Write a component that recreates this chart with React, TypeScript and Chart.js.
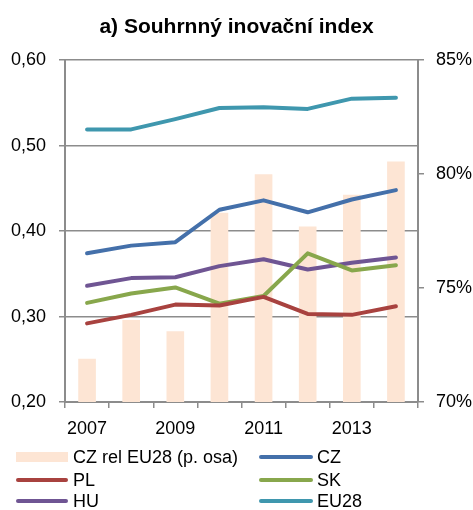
import React, { useEffect, useRef } from "react";
import { Chart, registerables } from "chart.js";

Chart.register(...registerables);

const years = ["2007", "2008", "2009", "2010", "2011", "2012", "2013", "2014"];
const czRelEU28 = [71.9, 73.6, 73.1, 78.3, 80.0, 77.7, 79.1, 80.55];
const cz = [0.374, 0.383, 0.387, 0.425, 0.436, 0.422, 0.437, 0.448];
const pl = [0.292, 0.302, 0.314, 0.313, 0.323, 0.303, 0.302, 0.312];
const sk = [0.316, 0.327, 0.334, 0.315, 0.324, 0.374, 0.354, 0.36];
const hu = [0.336, 0.345, 0.346, 0.359, 0.367, 0.355, 0.363, 0.369];
const eu28 = [0.519, 0.519, 0.531, 0.544, 0.545, 0.543, 0.555, 0.556];
const leftTicks = [0.2, 0.3, 0.4, 0.5, 0.6];
const rightTicks = [70, 75, 80, 85];

const FONT = "'Liberation Sans', Arial, sans-serif";
const BAR_COLOR = "#FDE5D4";
const GRID = "#8c8c8c";

const legendPlugin = {
  id: "customLegend",
  afterDraw(chart: any) {
    const ctx = chart.ctx;
    const ds = chart.data.datasets;
    const cols = [
      { sx: 16, sw: 52, tx: 73 },
      { sx: 259, sw: 54, tx: 317 },
    ];
    const rows = [457, 480, 501];
    ctx.save();
    ctx.font = "18px " + FONT;
    ctx.textBaseline = "middle";
    ctx.fillStyle = "#000";
    ds.forEach((d: any, i: number) => {
      const c = cols[i % 2];
      const y = rows[Math.floor(i / 2)];
      if (d.type === "bar") {
        ctx.fillStyle = d.backgroundColor;
        ctx.fillRect(c.sx, y - 5, c.sw, 10);
      } else {
        ctx.strokeStyle = d.borderColor;
        ctx.lineWidth = 4;
        ctx.lineCap = "round";
        ctx.beginPath();
        ctx.moveTo(c.sx + 2, y);
        ctx.lineTo(c.sx + c.sw - 2, y);
        ctx.stroke();
      }
      ctx.fillStyle = "#000";
      ctx.fillText(d.label, c.tx, y + 1);
    });
    ctx.restore();
  },
};

export default function App() {
  const ref = useRef<HTMLCanvasElement>(null);
  useEffect(() => {
    if (!ref.current) return;
    const line = (label: string, data: number[], color: string, order: number) => ({
      type: "line" as const,
      label,
      data,
      borderColor: color,
      backgroundColor: color,
      borderWidth: 4,
      pointRadius: 0,
      tension: 0,
      yAxisID: "y",
      order,
      borderCapStyle: "round" as const,
      borderJoinStyle: "round" as const,
    });
    const chart = new Chart(ref.current, {
      type: "bar",
      data: {
        labels: years,
        datasets: [
          {
            type: "bar",
            label: "CZ rel EU28 (p. osa)",
            data: czRelEU28,
            backgroundColor: BAR_COLOR,
            yAxisID: "y1",
            order: 10,
            barPercentage: 0.4,
            categoryPercentage: 1,
          } as any,
          line("CZ", cz, "#4470AA", 2),
          line("PL", pl, "#A8423F", 3),
          line("SK", sk, "#88A74C", 4),
          line("HU", hu, "#6F5593", 5),
          line("EU28", eu28, "#3F97AE", 1),
        ],
      },
      options: {
        animation: false,
        responsive: true,
        maintainAspectRatio: false,
        layout: { padding: { left: 0, right: 0, top: 0, bottom: 72 } },
        plugins: {
          legend: { display: false },
          tooltip: { enabled: false },
          title: {
            display: true,
            text: "a) Souhrnný inovační index",
            color: "#000",
            font: { family: FONT, size: 21, weight: "bold" },
            padding: { top: 15, bottom: 20 },
          },
        },
        scales: {
          x: {
            offset: true,
            grid: {
              display: true,
              offset: true,
              drawOnChartArea: false,
              drawTicks: true,
              tickLength: 6,
              color: GRID,
              lineWidth: 1.5,
            },
            border: { display: true, color: GRID, width: 2 },
            ticks: {
              autoSkip: false,
              maxRotation: 0,
              color: "#000",
              font: { family: FONT, size: 18 },
              padding: 10,
              callback: (_v: any, i: number) => (i % 2 === 0 ? years[i] : ""),
            },
            afterFit: (s: any) => {
              s.height = 36;
            },
          },
          y: {
            position: "left",
            min: 0.2,
            max: 0.6,
            afterBuildTicks: (s: any) => {
              s.ticks = leftTicks.map((v) => ({ value: v }));
            },
            grid: { color: GRID, lineWidth: 1.5, tickLength: 6 },
            border: { display: true, color: GRID, width: 2 },
            ticks: {
              color: "#000",
              font: { family: FONT, size: 18 },
              padding: 13,
              callback: (v: any) => Number(v).toFixed(2).replace(".", ","),
            },
            afterFit: (s: any) => {
              s.width = 65;
            },
          },
          y1: {
            position: "right",
            min: 70,
            max: 85,
            afterBuildTicks: (s: any) => {
              s.ticks = rightTicks.map((v) => ({ value: v }));
            },
            grid: { drawOnChartArea: false, color: GRID, lineWidth: 1.5, tickLength: 6 },
            border: { display: true, color: GRID, width: 2 },
            ticks: {
              color: "#000",
              font: { family: FONT, size: 18 },
              padding: 12,
              callback: (v: any) => v + "%",
            },
            afterFit: (s: any) => {
              s.width = 55;
            },
          },
        },
      },
      plugins: [legendPlugin],
    });
    return () => chart.destroy();
  }, []);
  return (
    <div style={{ position: "fixed", left: 0, top: 0, width: 473, height: 510, background: "#fff" }}>
      <canvas ref={ref} />
    </div>
  );
}
